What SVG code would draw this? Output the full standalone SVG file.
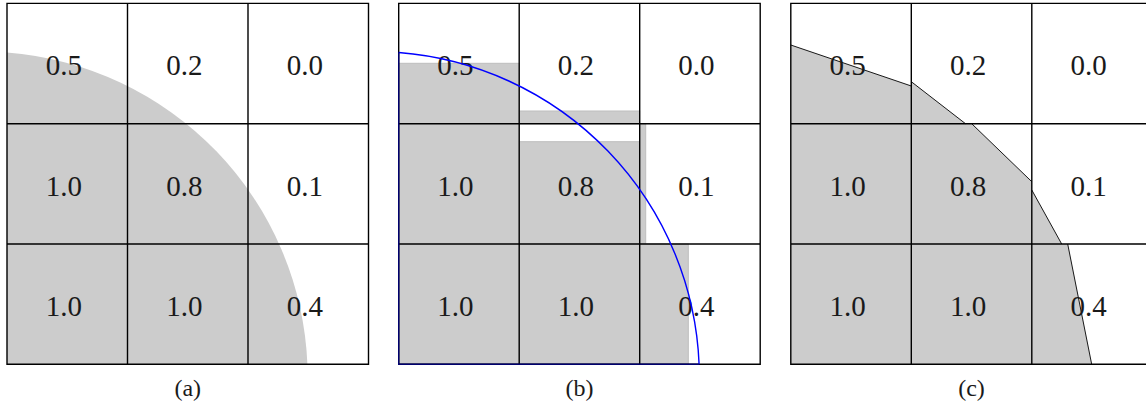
<svg xmlns="http://www.w3.org/2000/svg" width="1146" height="407" viewBox="0 0 1146 407">
<style>
.bg{fill:#ffffff}
.fill{fill:#cccccc}
.rectb{fill:#cccccc;stroke:#bdbdbd;stroke-width:1}
.grid{fill:none;stroke:#000000;stroke-width:1.4}
.iface{fill:none;stroke:#000000;stroke-width:0.9}
.arc{fill:none;stroke:#0000ff;stroke-width:1.4}
.edge{fill:none;stroke:#00006e;stroke-width:1.4}
.num{font-family:"Liberation Serif","DejaVu Serif",serif;font-size:29px;fill:#1a1a1a;text-anchor:middle}
.lab{font-family:"Liberation Serif","DejaVu Serif",serif;font-size:24px;fill:#1a1a1a;text-anchor:middle}
</style>
<rect class="bg" x="0" y="0" width="1146" height="407"/>

<g id="panel-a">
  <path class="fill" d="M7,364.3 L7,52.5 A326,326 0 0 1 307.4,364.3 Z"/>
  <path class="grid" d="M7,3.4 H368.5 V364.3 H7 Z M127.5,3.4 V364.3 M248,3.4 V364.3 M7,123.7 H368.5 M7,244 H368.5"/>
  <text class="num" x="63.75" y="75.4">0.5</text>
  <text class="num" x="184.25" y="75.4">0.2</text>
  <text class="num" x="304.75" y="75.4">0.0</text>
  <text class="num" x="63.75" y="195.7">1.0</text>
  <text class="num" x="184.25" y="195.7">0.8</text>
  <text class="num" x="304.75" y="195.7">0.1</text>
  <text class="num" x="63.75" y="316">1.0</text>
  <text class="num" x="184.25" y="316">1.0</text>
  <text class="num" x="304.75" y="316">0.4</text>
  <text class="lab" x="187.75" y="396">(a)</text>
</g>

<g id="panel-b">
  <rect class="rectb" x="398.7" y="63.3" width="120.5" height="60.4"/>
  <rect class="rectb" x="519.2" y="111" width="120.5" height="12.7"/>
  <rect class="rectb" x="398.7" y="123.7" width="120.5" height="240.6"/>
  <rect class="rectb" x="519.2" y="141.7" width="120.5" height="102.3"/>
  <rect class="rectb" x="639.7" y="123.7" width="6" height="120.3"/>
  <rect class="rectb" x="519.2" y="244" width="120.5" height="120.3"/>
  <rect class="rectb" x="639.7" y="244" width="48.6" height="120.3"/>
  <path class="grid" d="M398.7,3.4 H760.2 V364.3 H398.7 Z M519.2,3.4 V364.3 M639.7,3.4 V364.3 M398.7,123.7 H760.2 M398.7,244 H760.2"/>
  <text class="num" x="455.45" y="75.4">0.5</text>
  <text class="num" x="575.95" y="75.4">0.2</text>
  <text class="num" x="696.45" y="75.4">0.0</text>
  <text class="num" x="455.45" y="195.7">1.0</text>
  <text class="num" x="575.95" y="195.7">0.8</text>
  <text class="num" x="696.45" y="195.7">0.1</text>
  <text class="num" x="455.45" y="316">1.0</text>
  <text class="num" x="575.95" y="316">1.0</text>
  <text class="num" x="696.45" y="316">0.4</text>
  <text class="lab" x="579.45" y="396">(b)</text>
</g>

<g id="panel-c">
  <polygon class="fill" points="790.8,45 911.3,86 911.3,123.7 790.8,123.7"/>
  <polygon class="fill" points="911.3,81.7 965.5,123.7 911.3,123.7"/>
  <rect class="fill" x="790.8" y="123.7" width="120.5" height="240.6"/>
  <polygon class="fill" points="911.3,123.7 971.7,123.7 1031.8,181.7 1031.8,244 911.3,244"/>
  <polygon class="fill" points="1031.8,190 1061.7,244 1031.8,244"/>
  <rect class="fill" x="911.3" y="244" width="120.5" height="120.3"/>
  <polygon class="fill" points="1031.8,244 1067.7,244 1091.7,364.3 1031.8,364.3"/>
  <path class="iface" d="M790.8,45 L911.3,86 M911.3,81.7 L965.5,123.7 M971.7,123.7 L1031.8,181.7 M1031.8,190 L1061.7,244 M1067.7,244 L1091.7,364.3"/>
  <path class="grid" d="M790.8,3.4 H1152.3 V364.3 H790.8 Z M911.3,3.4 V364.3 M1031.8,3.4 V364.3 M790.8,123.7 H1152.3 M790.8,244 H1152.3"/>
  <text class="num" x="847.55" y="75.4">0.5</text>
  <text class="num" x="968.05" y="75.4">0.2</text>
  <text class="num" x="1088.55" y="75.4">0.0</text>
  <text class="num" x="847.55" y="195.7">1.0</text>
  <text class="num" x="968.05" y="195.7">0.8</text>
  <text class="num" x="1088.55" y="195.7">0.1</text>
  <text class="num" x="847.55" y="316">1.0</text>
  <text class="num" x="968.05" y="316">1.0</text>
  <text class="num" x="1088.55" y="316">0.4</text>
  <text class="lab" x="971.55" y="396">(c)</text>
</g>

<g id="connectors">
  <path class="arc" d="M398.7,52.5 A326,326 0 0 1 699.1,364.3"/>
  <path class="edge" d="M398.7,52.5 V364.3 H699.1"/>
</g>
</svg>
